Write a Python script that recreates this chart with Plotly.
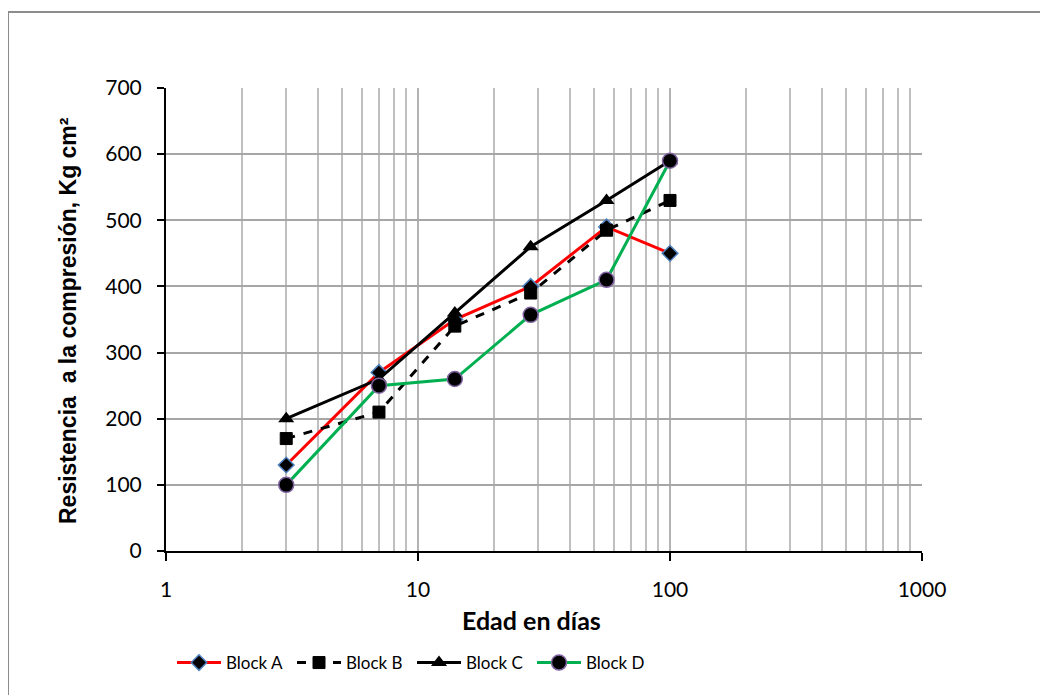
import plotly.graph_objects as go

edad = [3, 7, 14, 28, 56, 100]
block_a = [130, 270, 350, 400, 490, 450]
block_b = [170, 210, 340, 390, 485, 530]
block_c = [200, 260, 360, 460, 530, 590]
block_d = [100, 250, 260, 357, 410, 590]

x_ticks = [1, 10, 100, 1000]
x_tick_labels = ["1", "10", "100", "1000"]
y_ticks = [0, 100, 200, 300, 400, 500, 600, 700]

tick_font = dict(family="Lato, Carlito, Calibri, sans-serif", size=21, color="#000")

fig = go.Figure()
fig.add_trace(go.Scatter(
    x=edad, y=block_a, name="Block A", mode="lines+markers",
    line=dict(color="#ff0000", width=3),
    marker=dict(symbol="diamond", size=12, color="#000", line=dict(color="#4f81bd", width=1.5))))
fig.add_trace(go.Scatter(
    x=edad, y=block_b, name="Block B", mode="lines+markers",
    line=dict(color="#000", width=3, dash="dash"),
    marker=dict(symbol="square", size=12, color="#000", line=dict(color="#000", width=1))))
fig.add_trace(go.Scatter(
    x=edad, y=block_c, name="Block C", mode="lines+markers",
    line=dict(color="#000", width=3),
    marker=dict(symbol="triangle-up", size=14, color="#000", line=dict(color="#000", width=0))))
fig.add_trace(go.Scatter(
    x=edad, y=block_d, name="Block D", mode="lines+markers",
    line=dict(color="#00b050", width=3),
    marker=dict(symbol="circle", size=15, color="#000", line=dict(color="#8064a2", width=1.5))))

fig.update_xaxes(
    type="log", range=[0, 3], tickvals=x_ticks, ticktext=x_tick_labels,
    ticks="outside", ticklen=8, tickwidth=2, tickcolor="#000",
    showline=True, linecolor="#000", linewidth=2,
    showgrid=True, gridcolor="#b3b3b3", gridwidth=1.5,
    minor=dict(dtick="D1", showgrid=True, gridcolor="#bfbfbf", gridwidth=1.5, ticks=""),
    tickfont=tick_font, ticklabelstandoff=11, zeroline=False,
)
fig.update_yaxes(
    range=[0, 700], tickvals=y_ticks,
    ticks="outside", ticklen=7, tickwidth=2, tickcolor="#000",
    showline=True, linecolor="#000", linewidth=2,
    showgrid=True, gridcolor="#a6a6a6", gridwidth=1.5,
    tickfont=tick_font, ticklabelstandoff=11, zeroline=False,
)

fig.add_annotation(
    text="<b>Resistencia  a la compresión, Kg cm²</b>", textangle=-90,
    xref="paper", yref="paper", x=(68 - 166) / 756, y=(551 - 321) / 463,
    showarrow=False, font=dict(family="Liberation Sans, Arial, sans-serif", size=23, color="#000"),
    xanchor="center", yanchor="middle")
fig.add_annotation(
    text="<b>Edad en días</b>",
    xref="paper", yref="paper", x=(531 - 166) / 756, y=(551 - 620) / 463,
    showarrow=False, font=dict(family="Lato, Carlito, Calibri, sans-serif", size=25, color="#000"),
    xanchor="center", yanchor="middle")

fig.add_shape(type="rect", xref="paper", yref="paper",
              x0=(8 - 166) / 756, x1=(1070 - 166) / 756,
              y0=(551 - 720) / 463, y1=(551 - 12) / 463,
              line=dict(color="#8c8c8c", width=2), fillcolor="rgba(0,0,0,0)", layer="below")

fig.update_layout(
    width=1040, height=687,
    margin=dict(l=158, r=126, t=80, b=144),
    paper_bgcolor="#fff", plot_bgcolor="#fff",
    showlegend=True,
    legend=dict(orientation="h", x=(172 - 166) / 756, y=(551 - 663) / 463,
                xanchor="left", yanchor="middle",
                font=dict(family="Lato, Carlito, Calibri, sans-serif", size=17, color="#000"),
                itemwidth=44, entrywidth=61, entrywidthmode="pixels",
                tracegroupgap=0, bgcolor="rgba(0,0,0,0)"),
)

fig.write_html("out.html")
